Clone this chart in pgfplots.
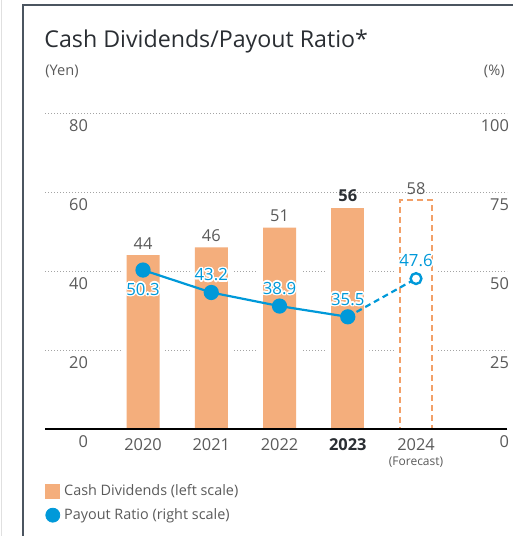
\documentclass[border=0pt]{standalone}
\usepackage{fontspec}
\setmainfont{Open Sans}
\usepackage{pgfplots}
\pgfplotsset{compat=1.18}
\usepackage{contour}
\contourlength{0.7pt}
\definecolor{barorange}{HTML}{F4AE7C}
\definecolor{dashorange}{HTML}{F2A068}
\definecolor{ratioblue}{HTML}{0099D9}
\definecolor{txtgray}{HTML}{5A5A5A}
\definecolor{darktxt}{HTML}{2A2E33}
\definecolor{framegray}{HTML}{4B5560}
\pgfplotsset{/pgf/number format/assume math mode=true,
  base/.style={at={(22.5pt,53.5pt)}, anchor=south west, scale only axis, width=231pt, height=158pt,
    xmin=-1.436, xmax=5.333, axis line style={draw=none}, major tick length=0, clip=false,
    tick label style={font=\fontsize{8.2}{9.8}\selectfont, text=txtgray}}}

\begin{document}
\begin{tikzpicture}[x=0.5pt,y=0.5pt]
\useasboundingbox (0,0) rectangle (513,536);
\draw[black!12, line width=0.5pt] (1.5,0) -- (1.5,536);
\draw[framegray, line width=1pt] (23,0) -- (23,531) -- (513,531);
\node[anchor=west, inner sep=0, text=darktxt, font=\fontsize{11.6}{13}\selectfont] at (44,495) {Cash Dividends/Payout Ratio*};
\node[anchor=west, inner sep=0, text=txtgray, font=\fontsize{7.3}{8}\selectfont] at (45,465) {(Yen)};
\node[anchor=east, inner sep=0, text=txtgray, font=\fontsize{7.3}{8}\selectfont] at (505,465) {(\%)};

% left scale: cash dividends (yen)
\begin{axis}[base, ymin=0, ymax=80,
  ytick={0,20,40,60,80}, ymajorgrids,
  grid style={txtgray!55, dash pattern=on 0.4pt off 1.1pt, line width=0.45pt},
  yticklabel style={anchor=east, xshift=25pt, yshift=-6.5pt},
  xtick={0,...,4},
  xticklabels={2020,2021,2022,{\bfseries\color{darktxt}2023},{2024\\[-2.5pt]{\fontsize{6}{7}\selectfont(Forecast)}}},
  xticklabel style={align=center, anchor=north, yshift=-1.5pt}]
\addplot[ybar, bar width=21.5pt, fill=white, draw=none] coordinates {(0,44) (1,46) (2,51) (3,56) (4,58)};
\addplot[ybar, bar width=16.5pt, fill=barorange, draw=none, nodes near coords,
  every node near coord/.append style={font=\fontsize{8.2}{9.8}\selectfont, text=txtgray, yshift=-0.5pt}]
  coordinates {(0,44) (1,46) (2,51)};
\addplot[ybar, bar width=16.5pt, fill=barorange, draw=none, nodes near coords={\bfseries\pgfmathprintnumber{\pgfplotspointmeta}},
  every node near coord/.append style={font=\fontsize{8.2}{9.8}\selectfont, text=darktxt, yshift=-0.5pt}]
  coordinates {(3,56)};
\addplot[ybar, bar width=16pt, fill=none, draw=dashorange, line width=1pt, dash pattern=on 3pt off 2pt, nodes near coords,
  every node near coord/.append style={font=\fontsize{8.2}{9.8}\selectfont, text=txtgray, yshift=-1pt, solid}]
  coordinates {(4,58)};
\draw[black, line width=0.75pt] (rel axis cs:0,0) -- (rel axis cs:1,0);
\end{axis}

% right scale: payout ratio (%)
\begin{axis}[base, ymin=0, ymax=100,
  ytick={0,25,50,75,100}, yticklabel pos=right,
  yticklabel style={anchor=east, xshift=4.5pt, yshift=-6.5pt},
  xtick=\empty,
  legend style={at={(0,-0.162)}, anchor=north west, draw=none, fill=none, inner sep=0pt,
    font=\fontsize{7.2}{8.6}\selectfont, text=txtgray, row sep=0.8pt, legend cell align=left}]
\addlegendimage{legend image code/.code={\fill[barorange] (0pt,-3.5pt) rectangle (7pt,3.5pt);}}
\addlegendentry{Cash Dividends (left scale)}
\addlegendimage{legend image code/.code={\fill[ratioblue] (3.5pt,0pt) circle (3.5pt);}}
\addlegendentry{Payout Ratio (right scale)}
\addplot[ratioblue, line width=1.1pt, mark=*, mark size=3.25pt, forget plot] coordinates {(0,50.3) (1,43.2) (2,38.9) (3,35.5)};
\addplot[ratioblue, line width=1.1pt, dash pattern=on 3pt off 2pt, forget plot] coordinates {(3,35.5) (4,47.6)};
\addplot[only marks, solid, mark=*, mark size=2.7pt, mark options={solid, draw=ratioblue, fill=white, line width=1.2pt}, forget plot] coordinates {(4,47.6)};
% value labels
\addplot[draw=none, mark=none, forget plot, point meta=explicit symbolic, nodes near coords={\contour{white}{\pgfplotspointmeta}},
  every node near coord/.append style={anchor=north, yshift=-3pt, font=\fontsize{8.4}{9.8}\selectfont, text=ratioblue}]
  coordinates {(0,50.3) [50.3]};
\addplot[draw=none, mark=none, forget plot, point meta=explicit symbolic, nodes near coords={\contour{white}{\pgfplotspointmeta}},
  every node near coord/.append style={anchor=south, yshift=1.5pt, font=\fontsize{8.4}{9.8}\selectfont, text=ratioblue}]
  coordinates {(1,43.2) [43.2] (2,38.9) [38.9] (3,35.5) [35.5] (4,47.6) [47.6]};
\end{axis}
\end{tikzpicture}
\end{document}
